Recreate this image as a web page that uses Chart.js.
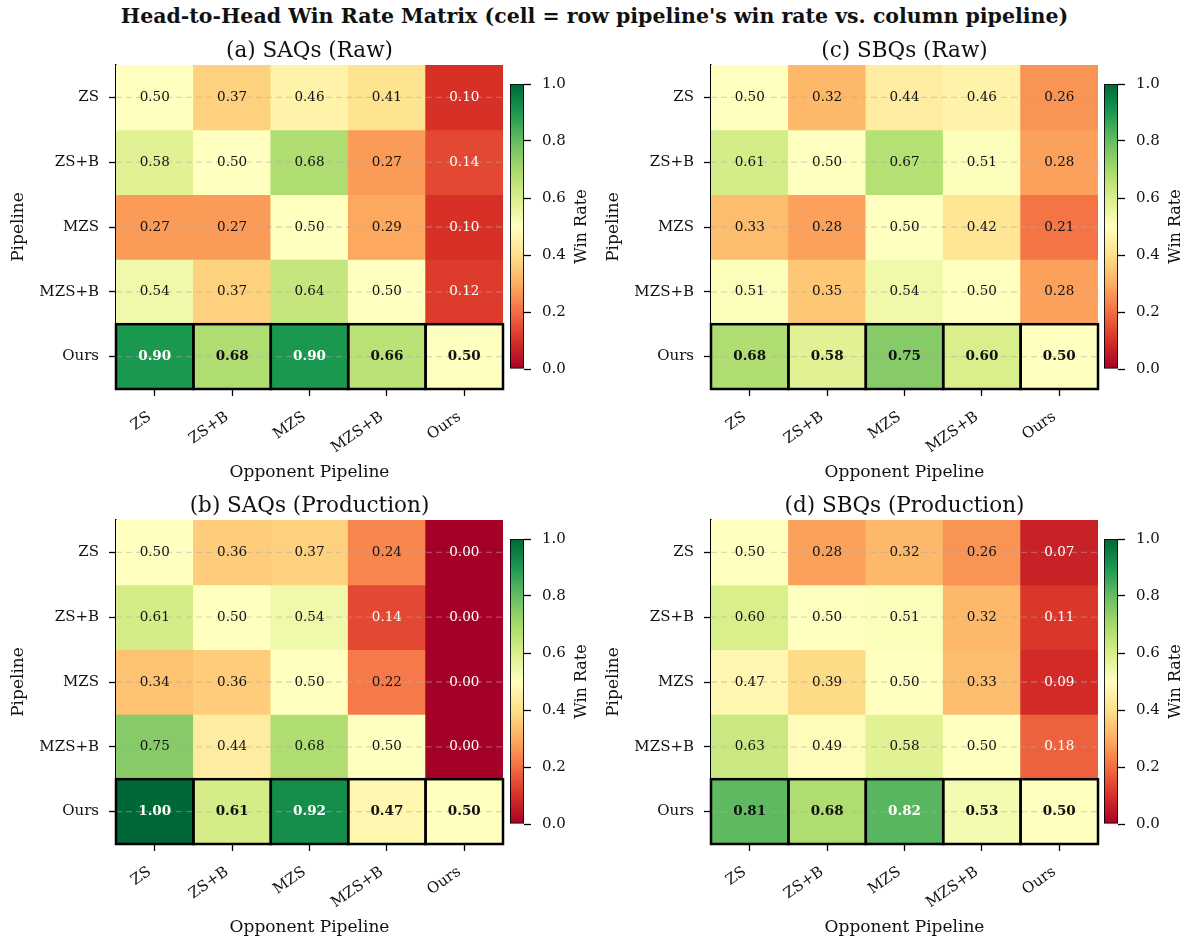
<!DOCTYPE html>
<html>
<head>
<meta charset="utf-8">
<script src="https://cdn.jsdelivr.net/npm/chart.js@4.4.1/dist/chart.umd.min.js"></script>
<style>
  body { margin: 0; background: #fff; overflow: hidden; }
  #page { position: relative; width: 1189px; height: 940px; overflow: hidden; font-family: 'DejaVu Serif', serif; }
  #page canvas { position: absolute; }
  #suptitle { position: absolute; left: 0; width: 1189px; top: 4px; text-align: center;
              font-weight: bold; font-size: 20.5px; color: #111; }
</style>
</head>
<body>
<div id="page">
  <div id="suptitle">Head-to-Head Win Rate Matrix (cell = row pipeline's win rate vs. column pipeline)</div>
</div>
<script>
// row / column labels
const pipelines = ['ZS', 'ZS+B', 'MZS', 'MZS+B', 'Ours'];

// win rate of row pipeline vs column pipeline
const saqRaw = [
  [0.50, 0.37, 0.46, 0.41, 0.10],
  [0.58, 0.50, 0.68, 0.27, 0.14],
  [0.27, 0.27, 0.50, 0.29, 0.10],
  [0.54, 0.37, 0.64, 0.50, 0.12],
  [0.90, 0.68, 0.90, 0.66, 0.50]
];
const sbqRaw = [
  [0.50, 0.32, 0.44, 0.46, 0.26],
  [0.61, 0.50, 0.67, 0.51, 0.28],
  [0.33, 0.28, 0.50, 0.42, 0.21],
  [0.51, 0.35, 0.54, 0.50, 0.28],
  [0.68, 0.58, 0.75, 0.60, 0.50]
];
const saqProd = [
  [0.50, 0.36, 0.37, 0.24, 0.00],
  [0.61, 0.50, 0.54, 0.14, 0.00],
  [0.34, 0.36, 0.50, 0.22, 0.00],
  [0.75, 0.44, 0.68, 0.50, 0.00],
  [1.00, 0.61, 0.92, 0.47, 0.50]
];
const sbqProd = [
  [0.50, 0.28, 0.32, 0.26, 0.07],
  [0.60, 0.50, 0.51, 0.32, 0.11],
  [0.47, 0.39, 0.50, 0.33, 0.09],
  [0.63, 0.49, 0.58, 0.50, 0.18],
  [0.81, 0.68, 0.82, 0.53, 0.50]
];
const cbTicks = [0, 0.2, 0.4, 0.6, 0.8, 1.0];

// RdYlGn
const rdylgn = ['#a50026', '#d73027', '#f46d43', '#fdae61', '#fee08b', '#ffffbf',
                '#d9ef8b', '#a6d96a', '#66bd63', '#1a9850', '#006837'];

Chart.defaults.font.family = "'DejaVu Serif', serif";
Chart.defaults.color = '#111';

function hex(c) {
  return [1, 3, 5].map(i => parseInt(c.substr(i, 2), 16));
}
function cellColor(v) {
  const t = Math.max(0, Math.min(1, v)) * 10;
  const i = Math.min(9, Math.floor(t));
  const f = t - i;
  const a = hex(rdylgn[i]), b = hex(rdylgn[i + 1]);
  const m = a.map((x, k) => Math.round(x + (b[k] - x) * f));
  return 'rgb(' + m.join(',') + ')';
}
function textColor(v) {
  return (v < 0.2 || v > 0.815) ? '#fff' : '#111';
}

function makeCanvas(left, top, w, h) {
  const c = document.createElement('canvas');
  c.width = w; c.height = h;
  c.style.left = left + 'px'; c.style.top = top + 'px';
  document.getElementById('page').appendChild(c);
  return c;
}

const cellPlugin = {
  id: 'cells',
  afterDatasetsDraw(chart) {
    const ctx = chart.ctx;
    const area = chart.chartArea;
    const ys = chart.scales.y;
    ctx.save();
    // faint dashed lines at row centres
    ctx.strokeStyle = 'rgba(170,170,170,0.45)';
    ctx.lineWidth = 1.3;
    ctx.setLineDash([6, 4]);
    ys.ticks.forEach(t => {
      const y = ys.getPixelForValue(t.value);
      ctx.beginPath();
      ctx.moveTo(area.left, y);
      ctx.lineTo(area.right, y);
      ctx.stroke();
    });
    ctx.setLineDash([]);
    chart.data.datasets.forEach((ds, r) => {
      const mine = pipelines[r] === 'Ours';
      chart.getDatasetMeta(r).data.forEach((bar, c) => {
        const p = bar.getProps(['x', 'y', 'base', 'width'], true);
        const top = Math.min(p.y, p.base), h = Math.abs(p.base - p.y);
        if (mine) {
          ctx.lineWidth = 2.5;
          ctx.strokeStyle = '#000';
          ctx.strokeRect(p.x - p.width / 2, top, p.width, h);
        }
        const v = ds.values[c];
        ctx.font = (mine ? 'bold ' : '') + "13.5px 'DejaVu Serif'";
        ctx.fillStyle = textColor(v);
        ctx.textAlign = 'center';
        ctx.textBaseline = 'middle';
        ctx.fillText(v.toFixed(2), p.x, top + h / 2);
      });
    });
    ctx.restore();
  },
  // subplot title, centred over the cells
  afterDraw(chart, args, opts) {
    const ctx = chart.ctx, a = chart.chartArea;
    ctx.save();
    ctx.font = "21.5px 'DejaVu Serif'";
    ctx.fillStyle = '#111';
    ctx.textAlign = 'center';
    ctx.textBaseline = 'middle';
    ctx.fillText(opts.text, (a.left + a.right) / 2, a.top - 13.5);
    ctx.restore();
  }
};

function heatmap(title, matrix, left, top) {
  const yw = 116, tw = 27, xh = 95, w = 387, h = 324;
  const canvas = makeCanvas(left - yw, top - tw, yw + w + 3, tw + h + xh);
  new Chart(canvas, {
    type: 'bar',
    data: {
      labels: pipelines,
      datasets: matrix.map((row, r) => ({
        label: pipelines[r],
        data: row.map(() => [r, r + 1]),
        values: row,
        backgroundColor: row.map(cellColor),
        borderWidth: 0,
        grouped: false,
        barPercentage: 1,
        categoryPercentage: 1
      }))
    },
    options: {
      responsive: false,
      animation: false,
      layout: { padding: { top: tw, right: 3 } },
      scales: {
        x: {
          type: 'category',
          offset: true,
          afterFit: s => { s.height = xh; },
          ticks: { autoSkip: false, minRotation: 35, maxRotation: 35, font: { size: 15 },
                   padding: 12, labelOffset: -5 },
          grid: { offset: false, drawOnChartArea: false, tickLength: 7, tickColor: '#000', tickWidth: 1.3 },
          border: { display: true, color: '#000', width: 1.5 },
          title: { display: true, text: 'Opponent Pipeline', font: { size: 17 }, padding: { top: 0, bottom: 1 } }
        },
        y: {
          type: 'linear',
          min: 0,
          max: 5,
          reverse: true,
          afterBuildTicks: s => { s.ticks = pipelines.map((_, i) => ({ value: i + 0.5 })); },
          afterFit: s => { s.width = yw; s.paddingTop = 0; },
          ticks: { callback: v => pipelines[Math.floor(v)], font: { size: 15 }, padding: 10 },
          grid: { drawOnChartArea: false, tickLength: 7, tickColor: '#000', tickWidth: 1.3 },
          border: { display: true, color: '#000', width: 1.5 },
          title: { display: true, text: 'Pipeline', font: { size: 17 }, padding: { top: 8 } }
        }
      },
      plugins: {
        legend: { display: false },
        tooltip: { enabled: false },
        title: { display: false },
        cells: { text: title }
      }
    },
    plugins: [cellPlugin]
  });
}

const cbLabel = {
  id: 'cbLabel',
  afterDraw(chart) {
    const ctx = chart.ctx, a = chart.chartArea;
    ctx.save();
    ctx.translate(a.right + 57.5, (a.top + a.bottom) / 2);
    ctx.rotate(-Math.PI / 2);
    ctx.font = "16px 'DejaVu Serif'";
    ctx.fillStyle = '#111';
    ctx.textAlign = 'center';
    ctx.textBaseline = 'middle';
    ctx.fillText('Win Rate', 0, 0);
    ctx.restore();
  }
};

function colorbar(left, top) {
  const bw = 14, bh = 285, aw = 80;
  const canvas = makeCanvas(left - 4, top - 12, 4 + bw + aw, bh + 24);
  new Chart(canvas, {
    type: 'bar',
    data: {
      labels: [''],
      datasets: [{
        data: [[cbTicks[0], cbTicks[cbTicks.length - 1]]],
        backgroundColor: ctx => {
          const a = ctx.chart.chartArea;
          if (!a) return 'transparent';
          const g = ctx.chart.ctx.createLinearGradient(0, a.bottom, 0, a.top);
          rdylgn.forEach((c, i) => g.addColorStop(i / 10, c));
          return g;
        },
        borderColor: '#000',
        borderWidth: 1.2,
        borderSkipped: false,
        barPercentage: 1,
        categoryPercentage: 1
      }]
    },
    options: {
      responsive: false,
      animation: false,
      layout: { padding: { left: 4, top: 12, bottom: 12 } },
      scales: {
        x: { display: false },
        y: {
          position: 'right',
          min: 0,
          max: 1,
          afterBuildTicks: s => { s.ticks = cbTicks.map(v => ({ value: v })); },
          afterFit: s => { s.width = aw; s.paddingTop = 0; s.paddingBottom = 0; },
          ticks: { callback: v => v.toFixed(1), font: { size: 15 }, padding: 11 },
          grid: { drawOnChartArea: false, tickLength: 7, tickColor: '#000', tickWidth: 1.3 },
          border: { display: false }
        }
      },
      plugins: { legend: { display: false }, tooltip: { enabled: false } }
    },
    plugins: [cbLabel]
  });
}

heatmap('(a) SAQs (Raw)', saqRaw, 116, 65);
heatmap('(c) SBQs (Raw)', sbqRaw, 711, 65);
heatmap('(b) SAQs (Production)', saqProd, 116, 520);
heatmap('(d) SBQs (Production)', sbqProd, 711, 520);
colorbar(510, 84);
colorbar(1104, 84);
colorbar(510, 539);
colorbar(1104, 539);
</script>
</body>
</html>
